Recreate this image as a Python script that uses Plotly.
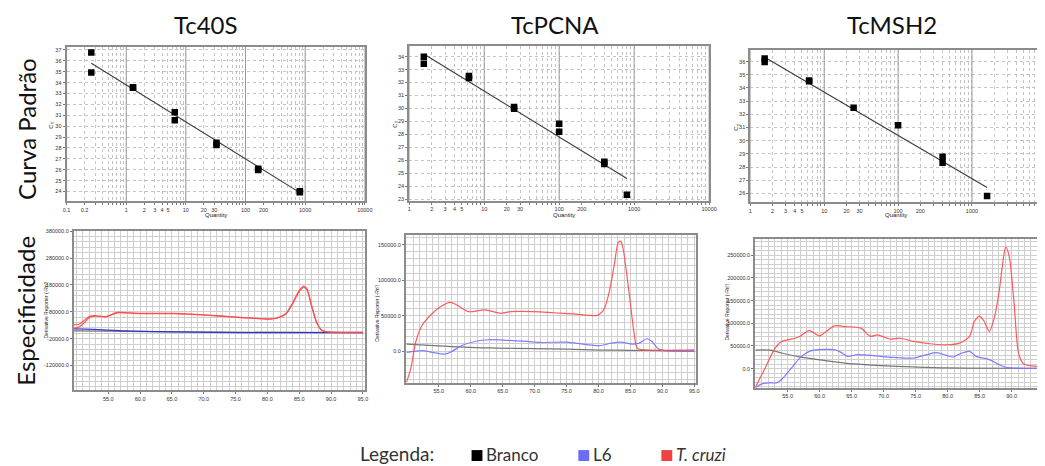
import numpy as np
import plotly.graph_objects as go

W, H = 1045, 466

# ---------------- standard curves: Ct vs quantity ----------------
q_40s = [0.26, 0.26, 1.3, 1.3, 6.52, 6.52, 32.6, 32.6, 163, 163, 815, 815]
ct_40s = [36.76, 34.93, 33.58, 33.52, 31.28, 30.55, 28.48, 28.27, 26.10, 25.98, 24.03, 23.94]

q_pcna = [1.5625, 1.5625, 6.25, 6.25, 25, 25, 100, 100, 400, 400, 800]
ct_pcna = [34.00, 33.44, 32.50, 32.35, 30.10, 29.97, 28.81, 28.19, 25.88, 25.70, 23.33]

q_msh2 = [1.5625, 1.5625, 6.25, 6.25, 25, 100, 400, 400, 1600]
ct_msh2 = [36.23, 35.97, 34.57, 34.50, 32.50, 31.18, 28.79, 28.32, 25.80]

# regression lines: Ct = intercept + slope * log10(quantity)
slope_40s, icpt_40s = -3.398, 33.79
slope_pcna, icpt_pcna = -3.547, 34.89
slope_msh2, icpt_msh2 = -3.282, 36.97

labels_40s = [0.1, 0.2, 1, 2, 3, 4, 5, 10, 20, 30, 100, 200, 1000, 10000]
labels_q = [1, 2, 3, 4, 5, 10, 20, 30, 100, 200, 1000, 10000]

# ---------------- melt curves: derivative reporter vs temperature ----------------
t_40s_red = [49.6, 50.5, 51.3, 52.1, 53.1, 54.6, 55.4, 56.4, 58.2, 60.3, 65.4, 68.0, 70.6, 73.1,
             75.7, 78.3, 80.3, 81.6, 82.9, 83.9, 85.0, 85.7, 86.2, 87.0, 87.8, 88.6, 89.6, 95.0]
d_40s_red_a = [30900, 34500, 49300, 64000, 65300, 61600, 67700, 77500, 76300, 73900, 73900, 71400,
               67700, 64000, 59100, 55400, 53000, 57900, 73900, 110700, 159900, 175800, 166000,
               98400, 37000, 10000, 5000, 3800]
d_40s_red_b = [18600, 24700, 40000, 60000, 64000, 61000, 68000, 76000, 75500, 73000, 73000, 70500,
               67000, 63000, 58500, 55000, 52500, 57000, 72000, 107000, 155000, 171000, 162000,
               96000, 36000, 9500, 4800, 3800]
t_40s_blue = [49.6, 52.6, 57.8, 65.5, 75.8, 95.0]
d_40s_blue = [16100, 14800, 8600, 4900, 2500, 2500]
t_40s_blank = [49.6, 55.0, 65.5, 95.0]
d_40s_blank = [8600, 8200, 4900, 2500]

t_pcna_red = [49.97, 50.64, 51.41, 52.43, 53.97, 55.26, 56.8, 57.82, 59.62, 62.19, 64.75, 66.29,
              69.89, 72.97, 76.05, 79.64, 80.15, 80.92, 81.69, 82.46, 83.13, 83.49, 83.85, 84.77,
              85.54, 86.05, 86.83, 95.0]
d_pcna_red = [-43500, -23800, 13500, 37000, 53000, 62600, 68700, 65000, 55600, 58000, 53300, 55600,
              55600, 54000, 52300, 50000, 51900, 60000, 83600, 121000, 153700, 154700, 144400,
              83600, 27500, 4200, 1900, 1500]
t_pcna_blue = [49.97, 52.43, 53.97, 56.03, 57.05, 58.59, 60.65, 62.7, 65.78, 68.86, 70.91, 75.01,
               77.58, 80.15, 81.95, 83.49, 85.29, 86.31, 87.6, 88.37, 89.4, 90.42, 95.0]
d_pcna_blue = [-1900, 500, -1900, -4200, -500, 7900, 13500, 15900, 15000, 13500, 12100, 12600,
               9800, 7500, 11000, 12600, 9800, 11000, 17300, 13500, 2800, 500, 0]
t_pcna_blank = [49.97, 55.0, 59.6, 64.0, 69.9, 75.0, 80.1, 85.0, 90.0, 95.0]
d_pcna_blank = [9800, 7200, 5100, 4200, 3300, 2600, 1400, 1000, 500, 0]

t_msh2_red = [49.96, 51.5, 53.04, 54.07, 55.62, 56.9, 58.35, 59.99, 61.02, 62.31, 63.85, 66.43,
              67.97, 69.0, 71.06, 72.6, 74.66, 77.23, 79.81, 81.86, 83.41, 84.18, 84.95, 85.73,
              86.5, 87.27, 88.04, 88.56, 89.07, 89.59, 90.36, 91.13, 91.9, 93.96]
d_msh2_red = [-41000, 1500, 45300, 60000, 65000, 71000, 84000, 72400, 81900, 94300, 92800, 89200,
              71000, 74600, 65000, 67000, 60000, 54800, 52600, 56300, 71000, 103800, 116000,
              103800, 81900, 111000, 169600, 228000, 268000, 250000, 147700, 30700, 10200, 5100]
t_msh2_blue = [49.96, 50.99, 52.01, 53.3, 54.07, 55.62, 57.16, 58.71, 60.76, 62.31, 63.34, 64.37,
               65.91, 67.97, 71.06, 74.66, 76.72, 78.26, 79.81, 80.84, 81.86, 83.41, 84.44, 86.5,
               88.04, 89.07, 93.96]
d_msh2_blue = [-42400, -33600, -31400, -31400, -24100, 1500, 27000, 39500, 42400, 41700, 35800,
               27000, 30700, 29200, 24900, 23400, 30700, 35100, 29200, 25600, 32200, 38000, 27000,
               19700, 8800, 2900, 700]
t_msh2_blank = [49.96, 52.27, 54.07, 56.65, 59.73, 61.79, 65.4, 69.52, 74.66, 79.81, 93.96]
d_msh2_blank = [40900, 40900, 34400, 26300, 19700, 16100, 10200, 6600, 3700, 1500, 700]

ticks_40s_melt = [-120000, -20000, 80000, 180000, 280000, 380000]
ticks_pcna_melt = [0, 50000, 100000, 150000]
ticks_msh2_melt = [0, 50000, 100000, 150000, 200000, 250000]
ticks_temp = [55, 60, 65, 70, 75, 80, 85, 90, 95]

gene_titles = ["Tc40S", "TcPCNA", "TcMSH2"]
row_titles = ["Curva Padrão", "Especificidade"]

RED = "#ff4a4a"
BLUE = "#7272ff"
BLANK = "#6a6a6a"
TICKFONT = dict(family="Liberation Sans", size=5.5, color="#333")


def px_x(p):
    return p / W


def px_y(p):
    return 1 - p / H


def within(vals, lo, hi):
    return [v for v in vals if lo <= v <= hi]


fig = go.Figure()

# panel geometry in pixels: (left, right, top, bottom)
std_boxes = [(63.3, 365, 45, 200.7), (410, 713.3, 44.3, 200), (755, 1045, 48.3, 201.7)]
std_xrange = [(-1, 4), (0, 4), (0, 3.88)]
std_yrange = [(23.09, 37.3), (22.87, 34.82), (25.32, 36.88)]
std_data = [(q_40s, ct_40s, slope_40s, icpt_40s, labels_40s),
            (q_pcna, ct_pcna, slope_pcna, icpt_pcna, labels_q),
            (q_msh2, ct_msh2, slope_msh2, icpt_msh2, labels_q)]

for i, (box, xr, yr, dat) in enumerate(zip(std_boxes, std_xrange, std_yrange, std_data)):
    n = i + 1
    xa, ya = ("x" if n == 1 else f"x{n}"), ("y" if n == 1 else f"y{n}")
    q, ct, slope, icpt, labs = dat
    labs = within(labs, 10.0 ** xr[0] * 0.999, 10.0 ** xr[1] * 1.001)
    # decade grid lines
    gx, gy = [], []
    for d in range(int(np.ceil(xr[0])), int(np.floor(xr[1])) + 1):
        gx += [10.0 ** d, 10.0 ** d, None]
        gy += [yr[0], yr[1], None]
    fig.add_trace(go.Scatter(x=gx, y=gy, mode="lines", line=dict(color="#9a9a9a", width=1),
                             xaxis=xa, yaxis=ya, hoverinfo="skip", showlegend=False))
    qf = np.array([min(q), max(q)])
    fig.add_trace(go.Scatter(x=qf, y=icpt + slope * np.log10(qf), mode="lines",
                             line=dict(color="#3a3a3a", width=1.1),
                             xaxis=xa, yaxis=ya, showlegend=False))
    fig.add_trace(go.Scatter(x=q, y=ct, mode="markers",
                             marker=dict(symbol="square", size=6.5, color="black"),
                             xaxis=xa, yaxis=ya, showlegend=False))
    cut = n == 3
    fig.layout[f"xaxis{'' if n == 1 else n}"] = dict(
        domain=[px_x(box[0]), px_x(box[1])], anchor=ya, type="log", range=list(xr),
        tickmode="array", tickvals=labs, ticktext=["%g" % v for v in labs], tickfont=TICKFONT,
        ticks="outside", ticklen=2, tickcolor="#777",
        showgrid=True, gridcolor="#c4c4c4", griddash="dot", gridwidth=1,
        minor=dict(dtick="D1", showgrid=True, gridcolor="#c4c4c4", griddash="dot", gridwidth=1,
                   ticks="outside", ticklen=2, tickcolor="#777"),
        showline=True, linecolor="#8c8c8c", linewidth=2, mirror=True, zeroline=False)
    yt = list(range(int(np.ceil(yr[0])), int(np.floor(yr[1])) + 1))
    fig.layout[f"yaxis{'' if n == 1 else n}"] = dict(
        domain=[px_y(box[3]), px_y(box[2])], anchor=xa, range=list(yr),
        tickmode="array", tickvals=yt, ticktext=[str(v) for v in yt], tickfont=TICKFONT,
        ticks="outside", ticklen=2, tickcolor="#777",
        showgrid=True, gridcolor="#c4c4c4", griddash="dot", gridwidth=1,
        showline=True, linecolor="#8c8c8c", linewidth=2, mirror=not cut, zeroline=False)

# melt curve panels
melt_boxes = [(70.7, 365, 230, 391), (406.7, 700, 235, 383.3), (760, 1045, 239, 388.3)]
melt_xrange = [(49.6, 95.3), (49.87, 95.26), (49.95, 93.96)]
melt_yrange = [(-213000, 382500), (-44860, 163000), (-42400, 285000)]
melt_yticks = [ticks_40s_melt, ticks_pcna_melt, ticks_msh2_melt]
melt_minor = [20000, 10000, 10000]
melt_curves = [
    [(t_40s_blank, d_40s_blank, BLANK), (t_40s_blue, d_40s_blue, "#2b2bd0"),
     (t_40s_red, d_40s_red_b, RED), (t_40s_red, d_40s_red_a, RED)],
    [(t_pcna_blank, d_pcna_blank, BLANK), (t_pcna_blue, d_pcna_blue, BLUE),
     (t_pcna_red, d_pcna_red, RED)],
    [(t_msh2_blank, d_msh2_blank, BLANK), (t_msh2_blue, d_msh2_blue, BLUE),
     (t_msh2_red, d_msh2_red, RED)],
]

for i in range(3):
    n = i + 4
    xa, ya = f"x{n}", f"y{n}"
    box, xr, yr = melt_boxes[i], melt_xrange[i], melt_yrange[i]
    for t, d, c in melt_curves[i]:
        fig.add_trace(go.Scatter(x=t, y=d, mode="lines", line=dict(color=c, width=1.2, shape="spline",
                                 smoothing=0.8), opacity=0.9, xaxis=xa, yaxis=ya, showlegend=False))
    cut = n == 6
    tx = within(ticks_temp, xr[0], xr[1])
    ty = within(melt_yticks[i], yr[0], yr[1])
    fig.layout[f"xaxis{n}"] = dict(
        domain=[px_x(box[0]), px_x(box[1])], anchor=ya, range=list(xr),
        tickmode="array", tickvals=tx, ticktext=["%.1f" % v for v in tx],
        tickfont=TICKFONT, ticks="outside", ticklen=2, tickcolor="#777",
        showgrid=True, gridcolor="#cfcfcf", gridwidth=1,
        minor=dict(dtick=1, tick0=50, showgrid=True, gridcolor="#cfcfcf", gridwidth=1),
        showline=True, linecolor="#8c8c8c", linewidth=2, mirror=True, zeroline=False)
    fig.layout[f"yaxis{n}"] = dict(
        domain=[px_y(box[3]), px_y(box[2])], anchor=xa, range=list(yr),
        tickmode="array", tickvals=ty, ticktext=["%.1f" % v for v in ty],
        tickfont=TICKFONT, ticks="outside", ticklen=2, tickcolor="#777",
        showgrid=True, gridcolor="#cfcfcf", gridwidth=1,
        minor=dict(dtick=melt_minor[i], tick0=0, showgrid=True, gridcolor="#cfcfcf", gridwidth=1),
        showline=True, linecolor="#8c8c8c", linewidth=2, mirror=not cut, zeroline=False)

ann = []


def text(x, y, s, size, angle=0, family="Liberation Sans", color="#222", xanchor="center", italic=False):
    ann.append(dict(x=px_x(x), y=px_y(y), xref="paper", yref="paper", text=s, showarrow=False,
                    textangle=angle, xanchor=xanchor, yanchor="middle",
                    font=dict(size=size, family=family, color=color,
                              style="italic" if italic else "normal")))


# gene titles and row titles
for x, s in zip([204, 557, 898], gene_titles):
    text(x, 23, s, 24, family="Lato", color="#111")
text(22, 128, row_titles[0], 24, angle=-90, family="Lato", color="#111")
text(22, 311, row_titles[1], 24, angle=-90, family="Lato", color="#111")

# axis titles
for x, y in [(48, 124), (396, 123), (741, 126)]:
    text(x, y, "C<sub>T</sub>", 6, angle=-90)
for x in [214, 567, 902]:
    text(x, 214.5, "Quantity", 6)
for x, y in [(42, 310), (377, 313), (731, 312)]:
    text(x, y, "Derivative Reporter (-Rn')", 5, angle=-90)

# legend
text(358, 454, "Legenda:", 19, family="Lato", color="#333", xanchor="left")
shapes = []
for x0, col, lab, it in [(473, "#000000", "Branco", False), (581, "#6b6bf5", "L6", False),
                         (665, "#f04242", "T. cruzi", True)]:
    shapes.append(dict(type="rect", xref="paper", yref="paper", x0=px_x(x0), x1=px_x(x0 + 11),
                       y0=px_y(462), y1=px_y(451), fillcolor=col, line=dict(width=0)))
    text(x0 + 13, 455, lab, 17, family="Lato", color="#333", xanchor="left", italic=it)

fig.update_layout(width=W, height=H, margin=dict(l=0, r=0, t=0, b=0),
                  paper_bgcolor="white", plot_bgcolor="white",
                  annotations=ann, shapes=shapes, showlegend=False)

fig.write_html("out.html")
